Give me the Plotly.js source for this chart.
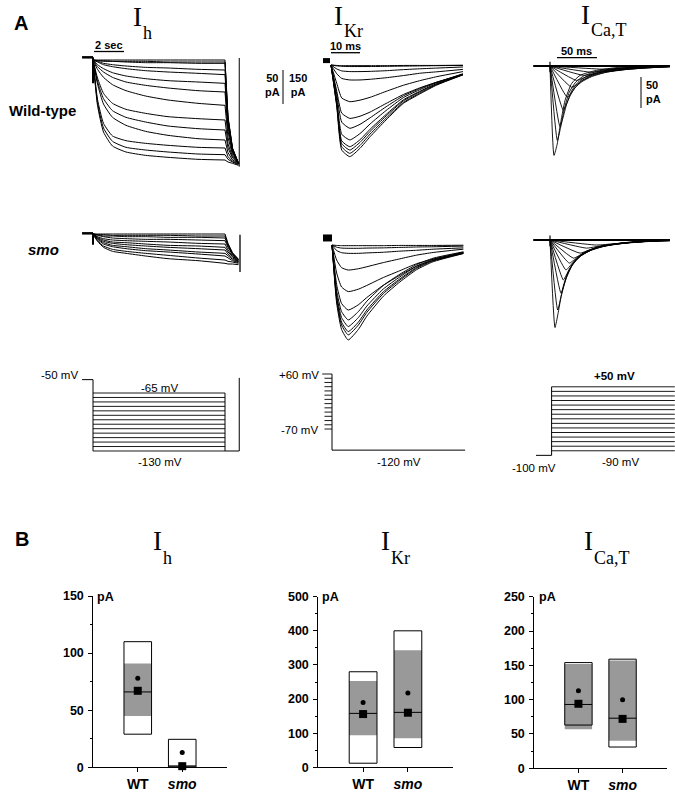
<!DOCTYPE html>
<html><head><meta charset="utf-8">
<script src="https://cdn.plot.ly/plotly-3.0.1.min.js"></script>
<style>html,body{margin:0;padding:0;background:#fff}#chart{width:675px;height:792px}</style>
</head><body><div id="chart"></div>
<script>
// ---------------- DATA ----------------
// Panel A, I_h (time in s, current in pA)
const ihTimes = [0, 0.3, 0.7, 1.3, 2.2, 3.5, 5, 7, 8.8, 9.0, 9.3, 9.7];
const ihWtCurrents = [
  [0, 0, 0, 0, 0, 0, 0, 0, 0, -85, -132, -155],
  [0, -1, -1, -2, -2, -2, -3, -3, -3, -87, -133, -155],
  [0, -1, -2, -2, -3, -4, -4, -5, -5, -88, -133, -155],
  [0, -2, -5, -7, -9, -11, -12, -14, -15, -92, -134, -155],
  [0, -3, -7, -10, -13, -16, -18, -20, -22, -95, -135, -155],
  [0, -7, -13, -19, -24, -28, -31, -33, -35, -101, -137, -155],
  [0, -10, -18, -26, -33, -38, -42, -46, -48, -107, -139, -155],
  [0, -14, -26, -37, -46, -54, -60, -65, -68, -116, -142, -155],
  [0, -27, -50, -65, -74, -80, -85, -88, -90, -126, -145, -155],
  [0, -32, -58, -76, -86, -93, -99, -103, -105, -132, -147, -155],
  [0, -36, -66, -86, -98, -107, -113, -118, -120, -139, -150, -155],
  [0, -59, -95, -114, -121, -125, -128, -131, -132, -145, -152, -156],
  [0, -64, -102, -122, -131, -135, -138, -141, -142, -149, -153, -157],
  [0, -68, -108, -129, -138, -143, -146, -149, -150, -153, -155, -158]
];
const ihSmoCurrents = [
  [0, 0, 0, 0, 0, 0, 0, 0, 0, -14, -28, -38],
  [0, -1, -1, -2, -2, -2, -2, -3, -3, -16, -29, -38],
  [0, -1, -3, -3, -4, -4, -5, -5, -6, -18, -30, -39],
  [0, -2, -4, -6, -7, -8, -8, -9, -10, -20, -31, -39],
  [0, -4, -7, -9, -10, -11, -12, -14, -15, -24, -33, -40],
  [0, -5, -9, -12, -13, -15, -17, -18, -20, -27, -34, -41],
  [0, -6, -11, -14, -16, -18, -20, -22, -24, -30, -36, -41],
  [0, -7, -13, -17, -19, -22, -24, -27, -29, -33, -38, -42],
  [0, -8, -15, -19, -22, -25, -27, -30, -33, -36, -40, -43],
  [0, -10, -18, -23, -26, -29, -32, -36, -39, -41, -42, -44],
  [0, -11, -20, -26, -29, -33, -37, -40, -44, -45, -45, -46]
];
const ihStepEndIndex = 8;   // index in ihTimes where the step ends and the tail begins
const ihHoldTimes = [-0.73, 0];
const ihWtHoldCurrent = [4, 4];
const ihSmoHoldCurrent = [1, 1];
const ihWtOnsetSpike = [4, -35];
const ihSmoOnsetSpike = [1, -16];
const ihEndTime = 9.75;
const ihWtEndSpike = [-160, 3];
const ihSmoEndSpike = [-57, -1];

// Panel A, I_Kr (time in ms, current in pA)
const krWtTimes = [0, 2, 3.7, 6.5, 10, 13.5, 19, 25, 31, 36.5, 45.5];
const krWtCurrents = [
  [0, -2, -3, -3, -3, -3, -3, -2, -2, -2, -1],
  [0, -4, -6, -7, -7, -7, -6, -5, -4, -3, -2],
  [0, -18, -27, -30, -30, -29, -26, -21, -17, -14, -9],
  [0, -40, -61, -68, -68, -65, -58, -48, -37, -31, -20],
  [0, -84, -150, -167, -160, -147, -120, -92, -70, -53, -30],
  [0, -120, -219, -243, -233, -214, -175, -134, -102, -78, -44],
  [0, -135, -260, -288, -270, -240, -190, -140, -105, -78, -42],
  [0, -157, -315, -341, -312, -268, -207, -148, -110, -80, -40],
  [0, -170, -345, -372, -340, -292, -225, -158, -117, -84, -42],
  [0, -178, -358, -387, -352, -302, -232, -163, -120, -86, -43],
  [0, -185, -372, -402, -366, -314, -242, -170, -125, -89, -44],
  [0, -190, -387, -417, -379, -326, -250, -174, -129, -91, -45]
];
const krSmoTimes = [0, 1.6, 3.3, 5.6, 9.1, 12, 17.7, 23.4, 29.2, 34.9, 45.3];
const krSmoCurrents = [
  [0, -2, -3, -3, -3, -3, -3, -2, -2, -2, -1],
  [0, -10, -14, -15, -15, -14, -13, -11, -9, -8, -5],
  [0, -25, -35, -38, -38, -36, -33, -28, -24, -19, -13],
  [0, -68, -103, -114, -108, -99, -80, -63, -46, -34, -19],
  [0, -127, -191, -212, -201, -184, -148, -117, -85, -64, -36],
  [0, -180, -266, -296, -272, -239, -183, -138, -96, -70, -38],
  [0, -208, -303, -341, -303, -256, -184, -133, -89, -60, -31],
  [0, -226, -330, -371, -330, -278, -200, -145, -96, -65, -33],
  [0, -240, -351, -394, -351, -296, -213, -154, -102, -69, -35],
  [0, -249, -364, -409, -364, -307, -221, -160, -106, -72, -37],
  [0, -264, -384, -432, -384, -324, -233, -168, -112, -76, -39]
];
const krWtStubTimes = [-2.76, -0.34];
const krWtStubCurrent = [20, 20];
const krSmoStubTimes = [-3.1, 0];
const krSmoStubCurrent = [32, 32];

// Panel A, I_Ca,T (time in ms, current in pA)
const caWtTimes = [
  [0, 5, 9, 12.5, 18.8, 27, 37.5, 58, 87.5, 150],
  [0, 9.2, 13, 18, 24, 32, 42, 60, 90, 150],
  [0, 12.5, 16, 21, 27, 35, 45, 62, 92, 150],
  [0, 16.7, 20, 25, 31, 39, 50, 66, 95, 150],
  [0, 21.7, 26, 32, 40, 52, 70, 100, 150],
  [0, 27, 33, 41, 52, 70, 100, 150],
  [0, 33, 40, 50, 65, 90, 120, 150],
  [0, 42, 52, 68, 90, 120, 150],
  [0, 52, 65, 85, 110, 150],
  [0, 65, 90, 120, 150]
];
const caWtCurrents = [
  [0, -143, -125, -97, -55, -28, -15, -7, -2, 0],
  [0, -119, -100, -68, -42, -26, -16, -8, -3, 0],
  [0, -97, -84, -60, -40, -26, -17, -9, -3, 0],
  [0, -71, -63, -48, -35, -24, -16, -9, -4, 0],
  [0, -50, -44, -34, -25, -17, -10, -4, 0],
  [0, -34, -30, -23, -16, -10, -5, -1],
  [0, -23, -20, -15, -10, -6, -3, -1],
  [0, -15, -13, -9, -6, -3, -1],
  [0, -10, -8, -5, -3, -1],
  [0, -5, -4, -2, -1]
];
const caSmoTimes = [
  [0, 6.25, 10, 14, 20, 28, 38, 55, 80, 110, 150],
  [0, 9.6, 13, 17, 23, 31, 42, 60, 90, 150],
  [0, 13.75, 17, 21, 27, 35, 46, 65, 95, 150],
  [0, 16.7, 20, 25, 31, 40, 52, 70, 100, 150],
  [0, 20, 24, 30, 38, 50, 68, 100, 150],
  [0, 24.2, 29, 36, 46, 62, 90, 150],
  [0, 29.2, 35, 44, 58, 80, 115, 150],
  [0, 37.5, 45, 58, 78, 110, 150],
  [0, 45.8, 56, 75, 105, 150],
  [0, 58, 80, 110, 150]
];
const caSmoCurrents = [
  [0, -140, -118, -90, -62, -40, -26, -14, -7, -3, 0],
  [0, -112, -95, -72, -50, -33, -21, -11, -5, 0],
  [0, -85, -74, -58, -42, -29, -19, -10, -4, 0],
  [0, -64, -57, -45, -34, -24, -16, -9, -4, 0],
  [0, -48, -43, -34, -25, -17, -10, -4, 0],
  [0, -37, -33, -26, -18, -11, -5, 0],
  [0, -29, -26, -19, -12, -7, -3, -1],
  [0, -21, -18, -12, -7, -3, -1],
  [0, -13, -11, -7, -3, -1],
  [0, -8, -6, -3, -1]
];
const caBaselineTimes = [-21, 150];
const caOnsetSpike = [7, -10];

// Voltage protocols (mV)
const ihProtoHold = -50;
const ihProtoSteps = [-65, -70, -75, -80, -85, -90, -95, -100, -105, -110, -115, -120, -125, -130];
const ihProtoStepEnd = 8.8;
const ihProtoHoldStart = -0.73;
const krProtoPrepulses = [60, 50, 40, 30, 20, 10, 0, -10, -20, -30, -40, -50, -60, -70];
const krProtoTest = -120;
const krProtoPrepulseStart = -2.6;
const krProtoEnd = 45.9;
const caProtoHold = -100;
const caProtoSteps = [50, 40, 30, 20, 10, 0, -10, -20, -30, -40, -50, -60, -70, -80, -90];
const caProtoHoldStart = -19.5;
const caProtoEnd = 154;

// Panel B (pA)
const groups = ['WT', 'smo'];
const ihOuterHigh = [110, 24.5], ihOuterLow = [29, 0];
const ihBoxHigh = [91, 2], ihBoxLow = [45, 0];
const ihMedian = [66, 1], ihSquare = [67, 1], ihDot = [78, 13];
const krOuterHigh = [280, 400], krOuterLow = [12, 58];
const krBoxHigh = [253, 343], krBoxLow = [94, 85];
const krMedian = [158, 161], krSquare = [156, 160], krDot = [190, 218];
const caOuterHigh = [154, 159], caOuterLow = [63, 31];
const caBoxHigh = [152, 157], caBoxLow = [57, 40];
const caMedian = [93, 73], caSquare = [94, 72], caDot = [113, 100];

// ---------------- LAYOUT HELPERS ----------------
const W = 675, H = 792;
const SANS = 'Liberation Sans, Arial, sans-serif';
const SERIF = 'Liberation Serif, Times New Roman, serif';
function xd(a, b) { return [a / W, b / W]; }
function yd(top, bottom) { return [1 - bottom / H, 1 - top / H]; }
function hiddenAxis(domain, range) {
  return { domain, range, visible: false, fixedrange: true, showgrid: false, zeroline: false };
}
const layout = {
  width: W, height: H, margin: { l: 0, r: 0, t: 0, b: 0 },
  paper_bgcolor: 'white', plot_bgcolor: 'rgba(0,0,0,0)',
  showlegend: false, barmode: 'overlay',
  annotations: [], shapes: []
};
function setAxes(n, xdom, xr, ydom, yr) {
  const xs = n === 1 ? 'xaxis' : 'xaxis' + n, ys = n === 1 ? 'yaxis' : 'yaxis' + n;
  layout[xs] = hiddenAxis(xdom, xr); layout[xs].anchor = 'y' + (n === 1 ? '' : n);
  layout[ys] = hiddenAxis(ydom, yr); layout[ys].anchor = 'x' + (n === 1 ? '' : n);
}
// Panel A trace axes
setAxes(1, xd(75, 245), [-1.2, 10.133], yd(50, 180), [-180, 15]);
setAxes(2, xd(75, 245), [-1.2, 10.133], yd(224, 284), [-75, 15]);
setAxes(3, xd(315, 470), [-5.517, 47.931], yd(50, 170), [-477.75, 68.25]);
setAxes(4, xd(315, 470), [-5.862, 47.586], yd(230, 350), [-477.75, 68.25]);
setAxes(5, xd(525, 675), [-31.25, 156.25], yd(50, 165), [-158.4, 25.6]);
setAxes(6, xd(525, 675), [-31.25, 156.25], yd(225, 340), [-160, 24]);
// protocol axes
setAxes(7, xd(75, 245), [-1.2, 10.133], yd(365, 460), [-140.1, -33.6]);
setAxes(8, xd(315, 470), [-5.862, 47.586], yd(365, 460), [-143.3, 81.3]);
setAxes(9, xd(525, 675), [-33.25, 154.25], yd(365, 475), [-143, 97.7]);

// Panel B axes
function boxAxes(n, xdom, ydom, yr, dtick, minor) {
  const tf = { family: SANS, size: 12.5, color: 'black', weight: 'bold' };
  layout['xaxis' + n] = {
    domain: xdom, range: [0, 3], anchor: 'y' + n, fixedrange: true,
    showline: true, linecolor: 'black', linewidth: 1, showgrid: false, zeroline: false,
    ticks: 'outside', ticklen: 4, tickcolor: 'black', tickwidth: 1,
    tickvals: [1, 2], ticktext: ['<b>WT</b>', '<b><i>smo</i></b>'],
    tickfont: { family: SANS, size: 14, color: 'black' }, ticklabelstandoff: 0
  };
  layout['yaxis' + n] = {
    domain: ydom, range: yr, anchor: 'x' + n, fixedrange: true,
    showline: true, linecolor: 'black', linewidth: 1, showgrid: false, zeroline: false,
    ticks: 'outside', ticklen: 4, tickcolor: 'black', tickwidth: 1, dtick: dtick, tick0: 0,
    tickfont: tf, ticklabelstandoff: 2,
    minor: { dtick: minor, ticks: 'outside', ticklen: 2.5, tickcolor: 'black', showgrid: false }
  };
}
boxAxes(10, xd(93.3, 226.7), yd(596, 767.3), [0, 150], 50, 25);
boxAxes(11, xd(318.3, 452.7), yd(596.7, 767.3), [0, 500], 100, 50);
boxAxes(12, xd(534.3, 666.7), yd(596.7, 768.3), [0, 250], 50, 25);

// ---------------- TRACES ----------------
const traces = [];
function axn(n) { return n === 1 ? ['x', 'y'] : ['x' + n, 'y' + n]; }
function line(x, y, n, w, shape) {
  const [xa, ya] = axn(n);
  traces.push({ type: 'scatter', mode: 'lines', x, y, xaxis: xa, yaxis: ya,
    line: { color: 'black', width: w || 1, shape: shape || 'linear', smoothing: 0.5 },
    hoverinfo: 'skip' });
}
// I_h: the step part is smoothed, the tail is drawn straight
function ihSweep(c, n) {
  line(ihTimes.slice(0, ihStepEndIndex + 1), c.slice(0, ihStepEndIndex + 1), n, 1, 'spline');
  line(ihTimes.slice(ihStepEndIndex), c.slice(ihStepEndIndex), n, 1, 'linear');
}
ihWtCurrents.forEach(c => ihSweep(c, 1));
line(ihHoldTimes, ihWtHoldCurrent, 1, 2.5);
line([0, 0], ihWtOnsetSpike, 1, 2);
line([ihEndTime, ihEndTime], ihWtEndSpike, 1, 1);
ihSmoCurrents.forEach(c => ihSweep(c, 2));
line(ihHoldTimes, ihSmoHoldCurrent, 2, 2.5);
line([0, 0], ihSmoOnsetSpike, 2, 2);
line([ihEndTime + 0.05, ihEndTime + 0.05], ihSmoEndSpike, 2, 1.3);
// I_Kr
krWtCurrents.forEach(c => line(krWtTimes, c, 3, 1, 'spline'));
line(krWtStubTimes, krWtStubCurrent, 3, 5);
krSmoCurrents.forEach(c => line(krSmoTimes, c, 4, 1, 'spline'));
line(krSmoStubTimes, krSmoStubCurrent, 4, 7);
// I_Ca,T
line(caBaselineTimes, [0, 0], 5, 2.2);
line([0, 0], caOnsetSpike, 5, 1.2);
caWtCurrents.forEach((c, i) => line(caWtTimes[i], c, 5, 0.9, 'spline'));
line(caBaselineTimes, [0, 0], 6, 2.2);
line([0, 0], caOnsetSpike, 6, 1.2);
caSmoCurrents.forEach((c, i) => line(caSmoTimes[i], c, 6, 0.9, 'spline'));

// Protocols
const ihLow = ihProtoSteps[ihProtoSteps.length - 1];
line([ihProtoHoldStart, 0, 0], [ihProtoHold, ihProtoHold, ihLow], 7, 1);
ihProtoSteps.forEach(v => line([0, ihProtoStepEnd], [v, v], 7, 0.9));
line([ihProtoStepEnd, ihProtoStepEnd], [ihProtoSteps[0], ihLow], 7, 1);
line([ihProtoStepEnd, ihEndTime, ihEndTime], [ihLow, ihLow, ihProtoHold + 2], 7, 1);

krProtoPrepulses.forEach((v, i) => line([i === 0 ? krProtoPrepulseStart * 1.3 : krProtoPrepulseStart, 0], [v, v], 8, 0.9));
line([0, 0, krProtoEnd], [krProtoPrepulses[0], krProtoTest, krProtoTest], 8, 1);

line([caProtoHoldStart, 0, 0], [caProtoHold, caProtoHold, caProtoSteps[0]], 9, 1);
caProtoSteps.forEach(v => line([0, caProtoEnd], [v, v], 9, 0.9));

// Panel B boxes
const BW = 0.62;
function boxPanel(n, outHi, outLo, bHi, bLo, med, sq, dot) {
  const xs = groups.map((g, i) => i + 1);
  const xa = 'x' + n, ya = 'y' + n;
  traces.push({ type: 'bar', x: xs, y: bHi.map((v, i) => v - bLo[i]), base: bLo, width: BW,
    xaxis: xa, yaxis: ya, marker: { color: '#999999', line: { width: 0 } }, hoverinfo: 'skip' });
  traces.push({ type: 'bar', x: xs, y: outHi.map((v, i) => v - outLo[i]), base: outLo, width: BW,
    xaxis: xa, yaxis: ya, marker: { color: 'rgba(0,0,0,0)', line: { color: 'black', width: 1 } }, hoverinfo: 'skip' });
  const mx = [], my = [];
  xs.forEach((x, i) => { mx.push(x - BW / 2, x + BW / 2, null); my.push(med[i], med[i], null); });
  traces.push({ type: 'scatter', mode: 'lines', x: mx, y: my, xaxis: xa, yaxis: ya,
    line: { color: 'black', width: 1 }, hoverinfo: 'skip' });
  traces.push({ type: 'scatter', mode: 'markers', x: xs, y: sq, xaxis: xa, yaxis: ya, cliponaxis: false,
    marker: { symbol: 'square', size: 8, color: 'black' }, hoverinfo: 'skip' });
  traces.push({ type: 'scatter', mode: 'markers', x: xs, y: dot, xaxis: xa, yaxis: ya, cliponaxis: false,
    marker: { symbol: 'circle', size: 5, color: 'black' }, hoverinfo: 'skip' });
}
boxPanel(10, ihOuterHigh, ihOuterLow, ihBoxHigh, ihBoxLow, ihMedian, ihSquare, ihDot);
boxPanel(11, krOuterHigh, krOuterLow, krBoxHigh, krBoxLow, krMedian, krSquare, krDot);
boxPanel(12, caOuterHigh, caOuterLow, caBoxHigh, caBoxLow, caMedian, caSquare, caDot);

// ---------------- TEXT & SCALE BARS ----------------
function ann(text, x, y, size, o) {
  o = o || {};
  layout.annotations.push({
    text, xref: 'paper', yref: 'paper', x: x / W, y: 1 - y / H, showarrow: false,
    xanchor: o.xa || 'center', yanchor: 'middle', align: o.align || 'center',
    font: { family: o.family || SANS, size, color: 'black', weight: o.weight || 'normal', style: o.style || 'normal' }
  });
}
function bar(x0, y0, x1, y1, w) {
  layout.shapes.push({ type: 'line', xref: 'paper', yref: 'paper', x0: x0 / W, y0: 1 - y0 / H, x1: x1 / W, y1: 1 - y1 / H,
    line: { color: 'black', width: w || 1 } });
}
// panel letters and row labels
ann('A', 21, 23, 20, { weight: 'bold' });
ann('B', 22, 539, 20, { weight: 'bold' });
ann('Wild-type', 42, 111, 15, { weight: 'bold' });
ann('smo', 43, 249, 15, { weight: 'bold', style: 'italic' });
// current titles
function title(x, y, sub, subDy) {
  ann('I', x, y, 27, { family: SERIF });
  ann(sub, x + 4, y + subDy, 18, { family: SERIF, xa: 'left' });
}
title(137, 17, 'h', 16);
title(338, 16, 'Kr', 15);
title(585, 15, 'Ca,T', 15);
title(157, 541, 'h', 17);
title(385, 541, 'Kr', 17);
title(588, 541, 'Ca,T', 17);
// scale bars
bar(94, 51.5, 124, 51.5, 1.3); ann('2 sec', 109, 45.5, 11, { weight: 'bold' });
bar(331, 52.7, 360, 52.7, 1.3); ann('10 ms', 345.5, 46, 11, { weight: 'bold' });
bar(557, 57.7, 597, 57.7, 1.3); ann('50 ms', 576, 50.5, 11, { weight: 'bold' });
bar(283, 70, 283, 104, 1); ann('50<br>pA', 272, 85, 11, { weight: 'bold' });
ann('150<br>pA', 298, 85, 11, { weight: 'bold' });
bar(641, 77, 641, 108, 1); ann('50<br>pA', 653, 92, 11, { weight: 'bold', align: 'left' });
// protocol labels
ann('-50 mV', 80, 375, 11.5, { xa: 'right' });
ann('-65 mV', 159, 388, 11.5);
ann('-130 mV', 160, 462, 11.5);
ann('+60 mV', 321, 375, 11.5, { xa: 'right' });
ann('-70 mV', 320, 430, 11.5, { xa: 'right' });
ann('-120 mV', 399, 462, 11.5);
ann('+50 mV', 614, 376, 11.5, { weight: 'bold' });
ann('-100 mV', 534, 468, 11.5);
ann('-90 mV', 620, 462, 11.5);
// pA unit labels panel B
ann('pA', 95, 597, 12.5, { weight: 'bold', xa: 'left' });
ann('pA', 320, 597, 12.5, { weight: 'bold', xa: 'left' });
ann('pA', 537, 597, 12.5, { weight: 'bold', xa: 'left' });

Plotly.newPlot('chart', traces, layout, { displayModeBar: false, staticPlot: true });
</script></body></html>
